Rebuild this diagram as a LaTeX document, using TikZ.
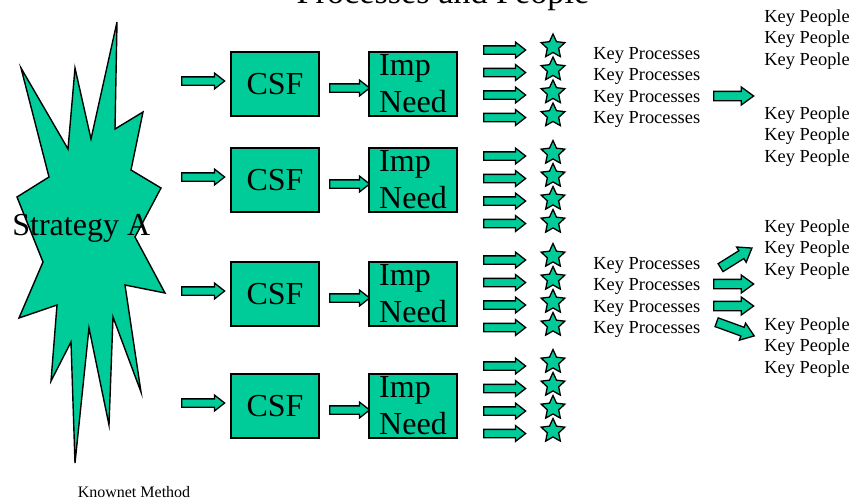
\documentclass[tikz,border=0pt]{standalone}
\usepackage{fontspec}
\setmainfont{Liberation Serif}
\usetikzlibrary{shapes.arrows,shapes.geometric}
\definecolor{csfgreen}{RGB}{0,204,153}
\tikzset{
  box/.style={draw, fill=csfgreen, line width=0.7pt, minimum width=44pt, minimum height=32pt, inner sep=0pt, align=left, font=\fontsize{16}{18.5}\selectfont},
  barrow/.style={single arrow, draw, fill=csfgreen, line width=0.65pt, inner sep=0pt, inner ysep=1.75pt, single arrow head extend=1.9pt, single arrow tip angle=76, minimum width=0pt, minimum height=#1, anchor=tail},
  bigarrow/.style={barrow=#1, inner ysep=2pt, single arrow head extend=2.2pt, single arrow tip angle=72},
  star5/.style={star, star points=5, star point ratio=2.1, draw, fill=csfgreen, minimum size=12.5pt, inner sep=0pt, line width=0.65pt},
  keytext/.style={font=\fontsize{9.2}{11}\selectfont, anchor=base west, inner sep=0pt}
}
\begin{document}
\begin{tikzpicture}[x=0.5pt,y=-0.5pt]
\useasboundingbox (0,0) rectangle (852,500);

% strategy burst
\filldraw[black,fill=csfgreen,line width=0.7pt] (117,22) -- (115,129) -- (143,112) -- (131,170) -- (161,188) -- (135,237) -- (165,293) -- (125,285) -- (141,392) -- (113,317) -- (109,425) -- (89,328) -- (75,463) -- (71,342) -- (51,381) -- (57,305) -- (19,318) -- (43,262) -- (17,197) -- (49,177) -- (21,68) -- (68,149) -- (75,68) -- (91,139) -- cycle;
\node[anchor=base west,inner sep=0pt,font=\fontsize{16}{18}\selectfont] (strat) at (12,235) {Strategy A};

\node[anchor=base,inner sep=0pt,font=\fontsize{17.1}{20}\selectfont] (title) at (443,3) {Processes and People};
\node[anchor=base,inner sep=0pt,font=\fontsize{8}{10}\selectfont] (method) at (134,497) {Knownet Method};

% rows
\foreach \i/\y in {1/84,2/180,3/294,4/406} {
  \node[barrow=21.5pt] (in\i) at (181,\y-3) {};
  \node[box] (csf\i) at (275,\y) {CSF};
  \node[barrow=20pt] (mid\i) at (329,\y+4) {};
  \node[box] (imp\i) at (413,\y) {Imp\\Need};
}

% arrows and stars
\foreach \g/\ya/\ys in {1/50/46.5,2/156/153,3/260/256,4/366/362} {
  \foreach \j in {0,1,2,3} {
    \node[barrow=21pt] (ar\g\j) at (483,\ya+22.5*\j) {};
    \node[star5] (st\g\j) at (553,\ys+23*\j) {};
  }
}

% key processes
\foreach \j/\y in {1/59,2/80.5,3/102,4/123.5}
  \node[keytext] (kpa\j) at (593,\y) {Key Processes};
\foreach \j/\y in {1/269,2/290.5,3/312,4/333.5}
  \node[keytext] (kpb\j) at (593,\y) {Key Processes};

% key people
\foreach \j/\y in {1/22,2/43.5,3/65,4/119,5/140.5,6/162}
  \node[keytext] (kqa\j) at (764,\y) {Key People};
\foreach \j/\y in {1/232,2/253.5,3/275,4/330,5/351.5,6/373}
  \node[keytext] (kqb\j) at (764,\y) {Key People};

\node[bigarrow=20pt] (kpa) at (713,96) {};
\node[bigarrow=18.5pt,rotate=32] (kpup) at (720,268) {};
\node[bigarrow=20pt] (kpr1) at (713,284) {};
\node[bigarrow=20pt] (kpr2) at (713,306) {};
\node[bigarrow=20pt,rotate=-20] (kpdn) at (716,322) {};
\end{tikzpicture}
\end{document}
